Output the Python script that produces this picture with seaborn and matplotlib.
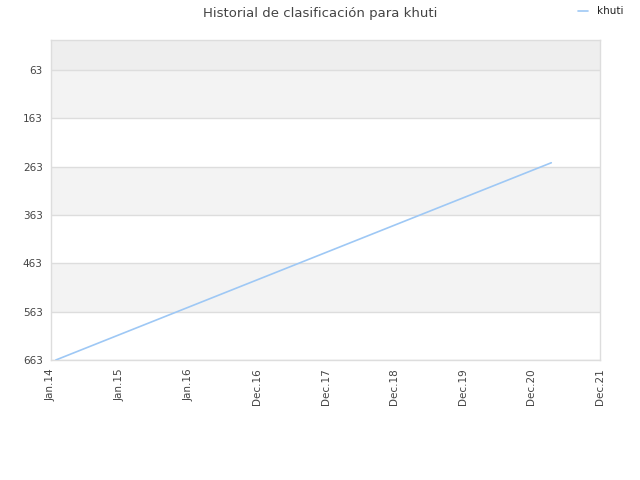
import matplotlib
matplotlib.use("Agg")
import matplotlib.pyplot as plt
import seaborn as sns
import pandas as pd

# tick labels along the x axis (equally spaced in the original chart)
x_labels = ['Jan.14', 'Jan.15', 'Jan.16', 'Dec.16', 'Dec.17', 'Dec.18', 'Dec.19', 'Dec.20', 'Dec.21']
x_pos = list(range(len(x_labels)))

# ranking history for khuti (position on the x scale, rank)
khuti_x = [0.07, 7.29]
khuti_rank = [663, 255]

y_ticks = [63, 163, 263, 363, 463, 563, 663]

sns.set_style('white')
plt.rcParams['font.family'] = ['DejaVu Sans']

df = pd.DataFrame({'x': khuti_x, 'rank': khuti_rank, 'player': 'khuti'})

fig = plt.figure(figsize=(6.4, 4.8), dpi=100)
ax = fig.add_axes([0.0797, 0.25, 0.8578, 0.6667])

# alternating background bands
ax.axhspan(1, 63, color='#eeeeee', zorder=0, lw=0)
for i, lo in enumerate(y_ticks[:-1]):
    if i % 2 == 0:
        ax.axhspan(lo, y_ticks[i + 1], color='#f3f3f3', zorder=0, lw=0)
for yt in y_ticks:
    ax.axhline(yt, color='#dddddd', lw=1, zorder=1)

sns.lineplot(data=df, x='x', y='rank', hue='player', palette=['#9ec8f5'],
             linewidth=1.2, ax=ax, zorder=3)

ax.set_xlim(0, 8)
ax.set_ylim(663, 1)
ax.set_yticks(y_ticks)
ax.set_yticklabels([str(t) for t in y_ticks])
ax.set_xticks(x_pos)
ax.set_xticklabels(x_labels, rotation=90)
ax.tick_params(axis='both', labelsize=7.5, colors='#444444', length=0, pad=6)
ax.set_xlabel('')
ax.set_ylabel('')
for s in ax.spines.values():
    s.set_color('#dddddd')
    s.set_linewidth(1)

fig.suptitle('Historial de clasificación para khuti', fontsize=9.5, color='#444444', y=0.985)

leg = ax.legend(loc='upper right', bbox_to_anchor=(1.06, 1.135), frameon=False,
                fontsize=7.5, handlelength=0.9, handletextpad=0.9)
for t in leg.get_texts():
    t.set_color('#222222')

fig.savefig('out.png', dpi=100)
